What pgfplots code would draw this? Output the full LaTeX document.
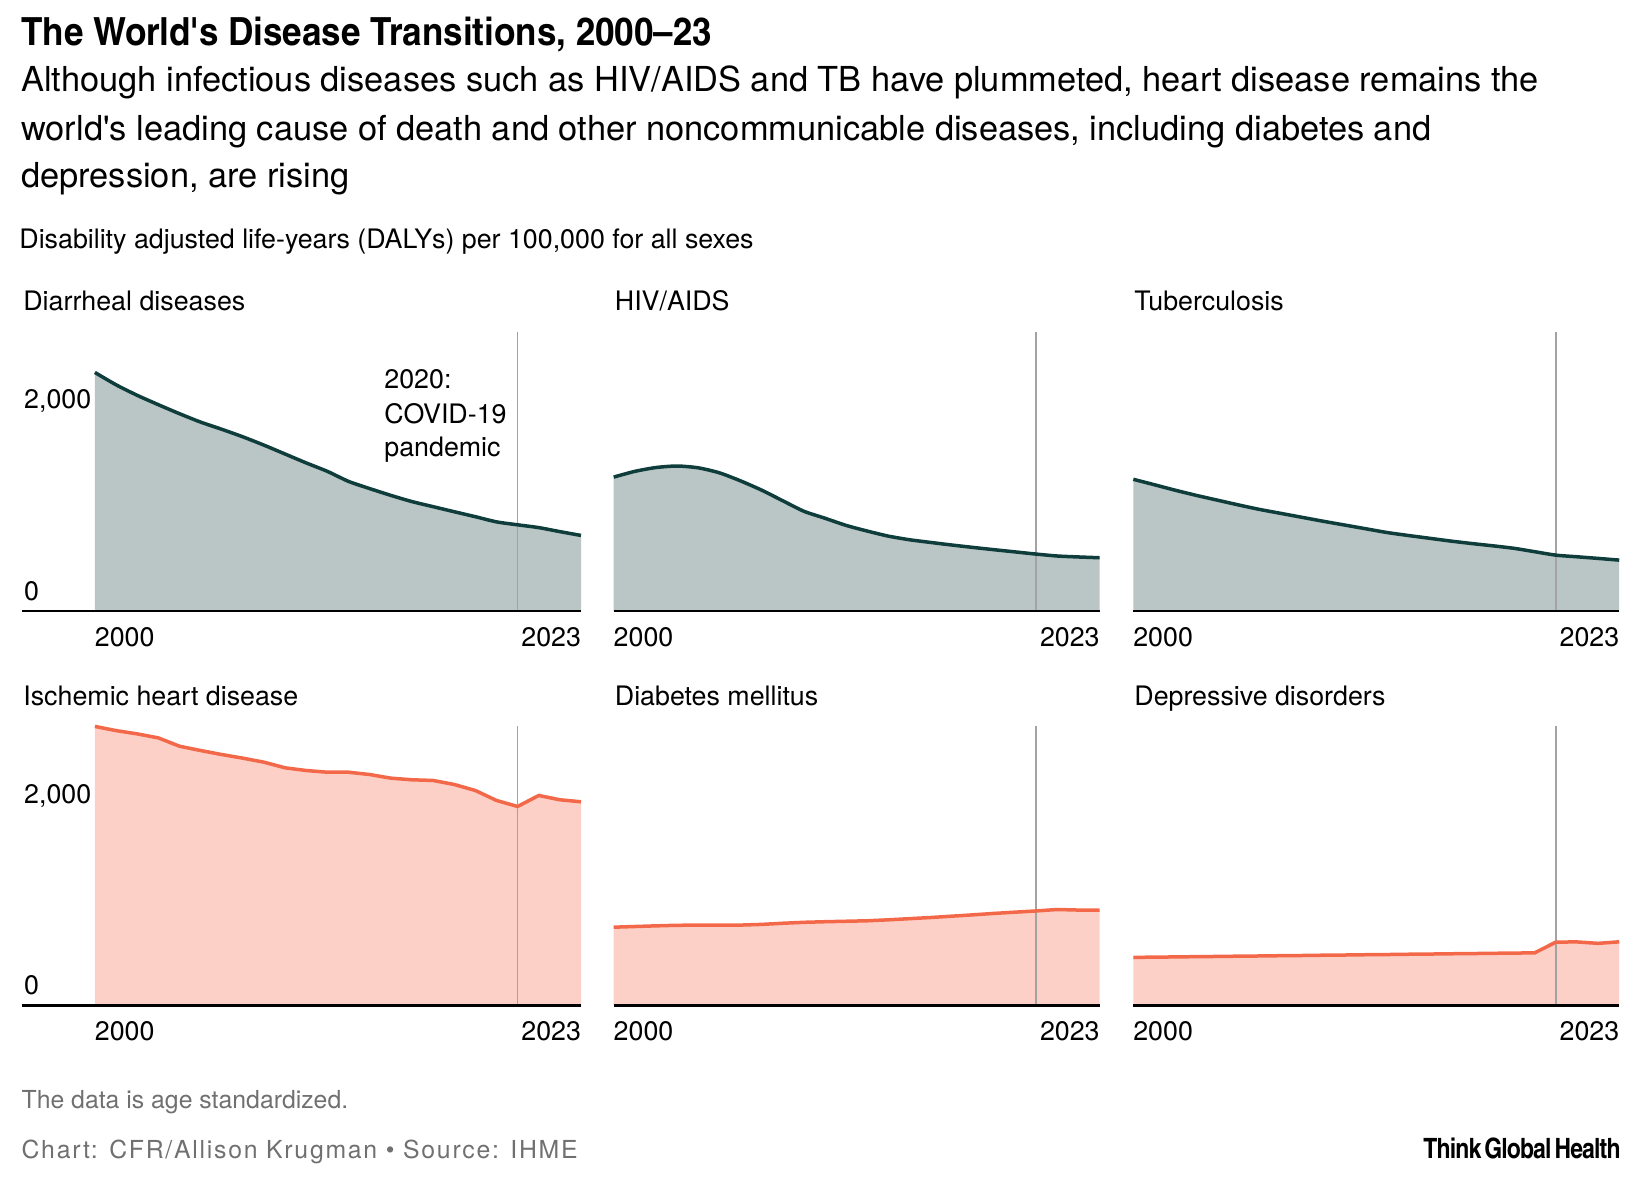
\documentclass[border=0pt]{standalone}
\usepackage{pgfplots}
\pgfplotsset{compat=1.18}
\usepackage{pgfplotstable}
\usepackage{fontspec}
\setmainfont{TeX Gyre Heros}
\newfontfamily\condfont{texgyreheroscn}[Extension=.otf,UprightFont=*-regular,BoldFont=*-bold]

\definecolor{tealfill}{HTML}{B9C6C5}
\definecolor{tealline}{HTML}{0F3D3C}
\definecolor{orfill}{HTML}{FDD0C7}
\definecolor{orline}{HTML}{F26849}
\definecolor{covid}{HTML}{A3A3A3}
\definecolor{foot}{HTML}{707070}

% DALYs per 100,000, age standardized
\pgfplotstableread{
year diar hiv tb ihd diab dep
2000 2494 1400 1377 2920 821 505
2001 2365 1460 1320 2876 828 508
2002 2255 1500 1262 2842 835 510
2003 2157 1516 1208 2800 841 513
2004 2063 1497 1158 2713 842 515
2005 1975 1445 1108 2668 842 518
2006 1900 1361 1061 2626 843 520
2007 1821 1264 1020 2588 850 523
2008 1734 1153 979 2546 862 525
2009 1641 1043 938 2487 872 528
2010 1548 970 899 2459 878 530
2011 1460 895 860 2441 883 533
2012 1355 836 821 2441 888 535
2013 1280 783 790 2417 898 538
2014 1209 745 761 2379 910 540
2015 1144 717 732 2362 922 543
2016 1091 690 706 2355 936 545
2017 1038 665 682 2313 950 548
2018 986 641 656 2250 965 550
2019 932 618 620 2146 978 553
2020 901 595 584 2083 991 665
2021 872 575 567 2198 1006 667
2022 830 565 550 2153 1000 652
2023 790 557 532 2132 998 668
}\daly

\newcommand\lab{\fontsize{13.4}{16}\selectfont}

\tikzset{
  covidline/.style={covid, line width=0.75pt},
  axbase/.style={black, line width=1.4pt},
}
\pgfplotsset{
  panel/.style={
    scale only axis, height=139.65pt,
    ymin=0, ymax=2920, xmax=2023,
    axis line style={draw=none}, major tick length=0pt,
    xtick={2000,2023},
    xticklabels={\makebox[0pt][l]{2000},\makebox[0pt][r]{2023}},
    xticklabel style={anchor=base, inner sep=0pt, yshift=-17.5pt},
    ytick=\empty,
    ticklabel style={font=\lab},
    clip=false,
  },
  leftpanel/.style={panel, width=279.6pt, xmin=1996.54,
    ytick={0,2000}, yticklabels={0,{2,000}},
    yticklabel style={anchor=base west, inner sep=0pt, xshift=1pt, yshift=5.5pt}},
  otherpanel/.style={panel, width=242.95pt, xmin=2000},
  areafill/.style={fill=#1, draw=none},
}

\begin{document}
\begin{tikzpicture}[x=0.5pt, y=-0.5pt]
\path[use as bounding box] (0,0) rectangle (1638,1184);

% titles
\node[anchor=base west, inner sep=0pt] at (20.9,45)
  {\scalebox{1.1}[1]{\condfont\bfseries\fontsize{19.4}{22}\selectfont The World\textquotesingle s Disease Transitions, 2000–23}};
\begin{scope}[every node/.style={anchor=base west, inner sep=0pt, font=\fontsize{17.2}{20}\selectfont}]
\node at (20.9,91.7) {Although infectious diseases such as HIV/AIDS and TB have plummeted, heart disease remains the};
\node at (20.9,140) {world\textquotesingle s leading cause of death and other noncommunicable diseases, including diabetes and};
\node at (20.9,187) {depression, are rising};
\end{scope}
\node[anchor=base west, inner sep=0pt, font=\lab] at (19,248)
  {Disability adjusted life-years (DALYs) per 100,000 for all sexes};

% panel titles
\begin{scope}[every node/.style={anchor=base west, inner sep=0pt, font=\lab}]
\node at (23,310) {Diarrheal diseases};
\node at (614.5,310) {HIV/AIDS};
\node at (1134,310) {Tuberculosis};
\node at (23,705) {Ischemic heart disease};
\node at (614.5,705) {Diabetes mellitus};
\node at (1134,705) {Depressive disorders};
\node at (384,388) {2020:};
\node at (384,423) {COVID-19};
\node at (384,456) {pandemic};
\end{scope}

% row 1
\begin{axis}[leftpanel, at={(10.9pt,-305.5pt)}, anchor=south west]
  \addplot[areafill=tealfill] table[x=year,y=diar]{\daly} \closedcycle;
  \draw[covidline] (axis cs:2020,0) -- (axis cs:2020,2920);
  \addplot[tealline, line width=1.75pt, smooth, tension=0.4] table[x=year,y=diar]{\daly};
  \draw[axbase] (rel axis cs:0,0) -- (rel axis cs:1,0);
\end{axis}
\begin{axis}[otherpanel, at={(306.85pt,-305.5pt)}, anchor=south west]
  \addplot[areafill=tealfill] table[x=year,y=hiv]{\daly} \closedcycle;
  \draw[covidline] (axis cs:2020,0) -- (axis cs:2020,2920);
  \addplot[tealline, line width=1.75pt, smooth, tension=0.4] table[x=year,y=hiv]{\daly};
  \draw[axbase] (rel axis cs:0,0) -- (rel axis cs:1,0);
\end{axis}
\begin{axis}[otherpanel, at={(566.65pt,-305.5pt)}, anchor=south west]
  \addplot[areafill=tealfill] table[x=year,y=tb]{\daly} \closedcycle;
  \draw[covidline] (axis cs:2020,0) -- (axis cs:2020,2920);
  \addplot[tealline, line width=1.75pt, smooth, tension=0.4] table[x=year,y=tb]{\daly};
  \draw[axbase] (rel axis cs:0,0) -- (rel axis cs:1,0);
\end{axis}

% row 2
\begin{axis}[leftpanel, at={(10.9pt,-502.85pt)}, anchor=south west]
  \addplot[areafill=orfill] table[x=year,y=ihd]{\daly} \closedcycle;
  \draw[covidline] (axis cs:2020,0) -- (axis cs:2020,2920);
  \addplot[orline, line width=1.75pt] table[x=year,y=ihd]{\daly};
  \draw[axbase] (rel axis cs:0,0) -- (rel axis cs:1,0);
\end{axis}
\begin{axis}[otherpanel, at={(306.85pt,-502.85pt)}, anchor=south west]
  \addplot[areafill=orfill] table[x=year,y=diab]{\daly} \closedcycle;
  \draw[covidline] (axis cs:2020,0) -- (axis cs:2020,2920);
  \addplot[orline, line width=1.75pt] table[x=year,y=diab]{\daly};
  \draw[axbase] (rel axis cs:0,0) -- (rel axis cs:1,0);
\end{axis}
\begin{axis}[otherpanel, at={(566.65pt,-502.85pt)}, anchor=south west]
  \addplot[areafill=orfill] table[x=year,y=dep]{\daly} \closedcycle;
  \draw[covidline] (axis cs:2020,0) -- (axis cs:2020,2920);
  \addplot[orline, line width=1.75pt] table[x=year,y=dep]{\daly};
  \draw[axbase] (rel axis cs:0,0) -- (rel axis cs:1,0);
\end{axis}

% footer
\node[anchor=base west, inner sep=0pt, font=\fontsize{12.4}{14}\selectfont, text=foot] at (21.2,1108.3)
  {The data is age standardized.};
\node[anchor=base west, inner sep=0pt, font=\fontsize{12.4}{14}\selectfont\addfontfeature{LetterSpace=7}, text=foot] at (21.2,1158.3)
  {Chart: CFR/Allison Krugman \textbullet{} Source: IHME};
\node[anchor=base east, inner sep=0pt, font=\condfont\bfseries\fontsize{14}{16}\selectfont\addfontfeature{LetterSpace=-3}] at (1621,1158)
  {Think\hspace{1.5pt}Global\hspace{1.5pt}Health};
\end{tikzpicture}
\end{document}
